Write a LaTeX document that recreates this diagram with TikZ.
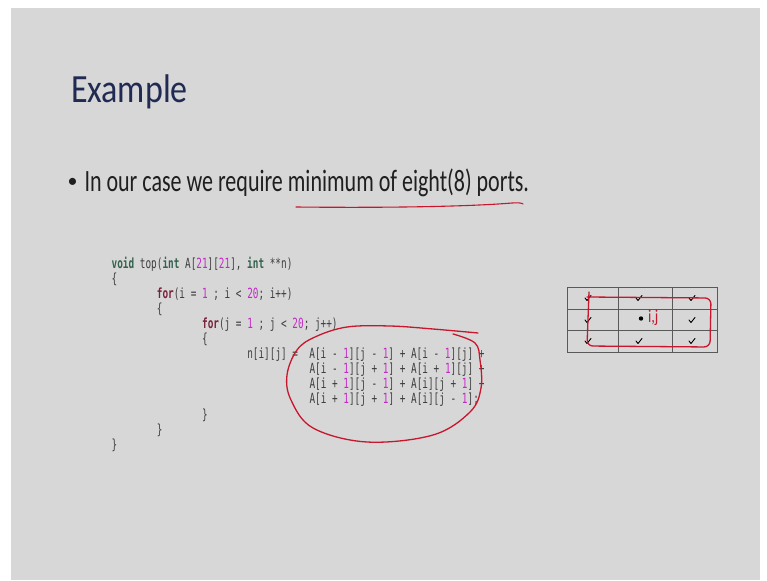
\documentclass[tikz,border=0pt]{standalone}
\usepackage{fontspec}
\usepackage{graphicx}
\setmainfont{Carlito}
\newfontfamily\codefont{DejaVu Sans Mono}

\definecolor{slidegrey}{RGB}{215,215,215}
\definecolor{titleblue}{RGB}{32,42,82}
\definecolor{inkred}{RGB}{200,22,45}
\definecolor{kwgreen}{RGB}{52,98,78}
\definecolor{kwred}{RGB}{120,34,58}
\definecolor{numpink}{RGB}{196,40,200}
\definecolor{codegrey}{RGB}{62,62,62}

% slide text is squeezed sideways
\newcommand{\sq}[2]{\scalebox{#1}[1]{#2}}
\newcommand{\kwg}[1]{\textcolor{kwgreen}{\textbf{#1}}}
\newcommand{\kwr}[1]{\textcolor{kwred}{\textbf{#1}}}
\newcommand{\nm}[1]{\textcolor{numpink}{#1}}

\begin{document}
\begin{tikzpicture}[x=1pt,y=-1pt,
  every node/.style={inner sep=0pt,outer sep=0pt},
  codeline/.style={anchor=base west,text=codegrey,font=\codefont\fontsize{14}{16}\selectfont},
  ink/.style={draw=inkred,line width=1.3pt,line cap=round,line join=round},
  cell/.style={draw=black!65,line width=0.6pt},
  tick/.style={draw=black,line width=0.9pt,line cap=round,line join=round}]
% slide
\fill [white] (0,0) rectangle (767,580);
\fill [slidegrey] (11,8) rectangle (760,580);
\node [anchor=base west,text=titleblue,font=\fontsize{40}{40}\selectfont] (title) at (71,102.3) {\sq{0.85}{Example}};
\node [text=black!88,font=\fontsize{20}{20}\selectfont] (bullet) at (72.5,183) {•};
\node [anchor=base west,text=black!88,font=\fontsize{31}{31}\selectfont] (point) at (84.5,191.7) {\sq{0.71}{In our case we require minimum of eight(8) ports.}};
% code
\node [codeline] (c0) at (111.7,268) {\sq{0.67}{\kwg{void} top(\kwg{int} A[\nm{21}][\nm{21}], \kwg{int} **n)}};
\node [codeline] (c1) at (111.7,283.1) {\sq{0.67}{\{}};
\node [codeline] (c2) at (156.9,298.2) {\sq{0.67}{\kwr{for}(i = \nm{1} ; i < \nm{20}; i++)}};
\node [codeline] (c3) at (156.9,313.3) {\sq{0.67}{\{}};
\node [codeline] (c4) at (202.1,328.4) {\sq{0.67}{\kwr{for}(j = \nm{1} ; j < \nm{20}; j++)}};
\node [codeline] (c5) at (202.1,343.5) {\sq{0.67}{\{}};
\node [codeline] (c6) at (247.3,358.6) {\sq{0.67}{n[i][j] =\ \ A[i - \nm{1}][j - \nm{1}] + A[i - \nm{1}][j] +}};
\node [codeline] (c7) at (309.5,373.7) {\sq{0.67}{A[i - \nm{1}][j + \nm{1}] + A[i + \nm{1}][j] +}};
\node [codeline] (c8) at (309.5,388.8) {\sq{0.67}{A[i + \nm{1}][j - \nm{1}] + A[i][j + \nm{1}] +}};
\node [codeline] (c9) at (309.5,403.9) {\sq{0.67}{A[i + \nm{1}][j + \nm{1}] + A[i][j - \nm{1}];}};
\node [codeline] (c10) at (202.1,419) {\sq{0.67}{\}}};
\node [codeline] (c11) at (156.9,434.1) {\sq{0.67}{\}}};
\node [codeline] (c12) at (111.7,449.2) {\sq{0.67}{\}}};
% pen marks
\draw [ink,line width=1.1pt] (296,207) .. controls (390,208) and (470,206.5) .. (512,203) .. controls (518,202.5) and (522,203) .. (523,204);
\draw [ink] plot [smooth,tension=0.6] coordinates {(478,333) (433,329) (390,326) (347,327) (315,337) (297,350) (287,375) (291,400) (313,428) (367,442) (433,435) (470,412) (481,388) (480,360) (475,343) (453,334)};
% neighbour grid
\draw [cell] (567,287) rectangle (717,352);
\draw [cell] (618,287) -- (618,352) (672,287) -- (672,352);
\draw [cell] (567,309) -- (717,309) (567,330) -- (717,330);
\foreach \x/\y in {588/298,639/298,692/298,588/320,692/320,588/341,639/341,692/341}
  \draw [tick] (\x-3,\y) -- (\x-1,\y+2.5) -- (\x+3,\y-2.5);
\fill (641,318.5) circle (2.2);
\node [anchor=west,text=inkred,font=\fontsize{18}{18}\selectfont] (ij) at (648,318) {\sq{0.8}{i,j}};
\draw [ink,rounded corners=6] (589,292) -- (587,346) -- (710,347) -- (711,298) -- (587,297);
\end{tikzpicture}
\end{document}
